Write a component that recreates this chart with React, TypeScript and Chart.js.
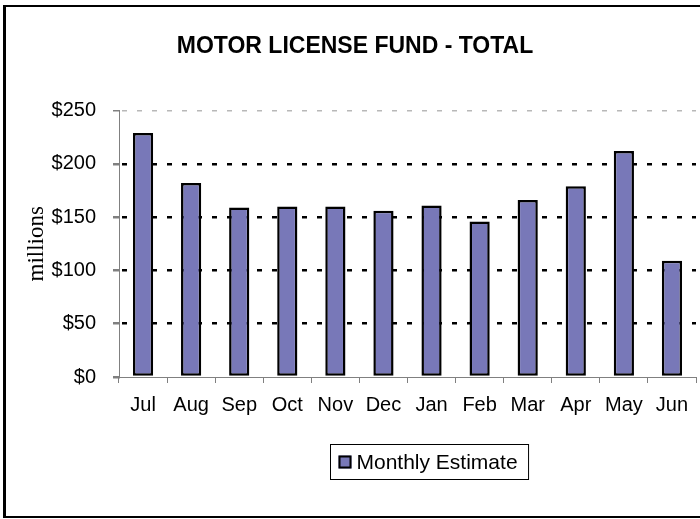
import React, { useEffect, useRef } from "react";
import { Chart, registerables } from "chart.js";

Chart.register(...registerables);

const months = ["Jul", "Aug", "Sep", "Oct", "Nov", "Dec", "Jan", "Feb", "Mar", "Apr", "May", "Jun"];
const monthlyEstimate = [229, 182, 159, 160, 160, 156, 161, 146, 166, 179, 212, 109];
const seriesLabel = "Monthly Estimate";
const chartTitle = "MOTOR LICENSE FUND - TOTAL";
const yAxisTitle = "millions";
const yMin = 0;
const yMax = 250;
const yStep = 50;

const SANS = '"Liberation Sans", Arial, sans-serif';
const SERIF = '"Liberation Serif", "Times New Roman", serif';
const BAR_FILL = "#7878b8";

const framePlugin = {
  id: "frame",
  beforeDraw(chart: any) {
    const ctx = chart.ctx;
    ctx.save();
    ctx.fillStyle = "#ffffff";
    ctx.fillRect(0, 0, chart.width, chart.height);
    ctx.fillStyle = "#000000";
    ctx.fillRect(3, 5, chart.width - 3, 2);
    ctx.fillRect(3, 5, 3, chart.height - 7);
    ctx.fillRect(3, 516, chart.width - 3, 2);
    ctx.restore();
  },
};

const boxedLegendPlugin = {
  id: "boxedLegend",
  afterDraw(chart: any) {
    const ctx = chart.ctx;
    const ds = chart.data.datasets[0];
    ctx.save();
    ctx.font = `21px ${SANS}`;
    const tw = ctx.measureText(ds.label).width;
    const sq = 13;
    const padL = 8;
    const gap = 5;
    const padR = 11;
    const w = padL + sq + gap + tw + padR;
    const h = 35;
    const cx = 429;
    const x = Math.round(cx - w / 2) + 0.5;
    const y = 444.5;
    ctx.strokeStyle = "#000000";
    ctx.lineWidth = 1;
    ctx.strokeRect(x, y, w, h);
    const sx = x + padL;
    const sy = y + (h - sq) / 2;
    ctx.fillStyle = ds.backgroundColor;
    ctx.fillRect(sx, sy, sq, sq);
    ctx.lineWidth = 2;
    ctx.strokeRect(sx + 1, sy + 1, sq - 2, sq - 2);
    ctx.fillStyle = "#000000";
    ctx.textBaseline = "middle";
    ctx.textAlign = "left";
    ctx.fillText(ds.label, sx + sq + gap, y + h / 2 + 1);
    ctx.restore();
  },
};

export default function App() {
  const canvasRef = useRef<HTMLCanvasElement | null>(null);

  useEffect(() => {
    const canvas = canvasRef.current;
    if (!canvas) return;
    const chart = new Chart(canvas, {
      type: "bar",
      data: {
        labels: months,
        datasets: [
          {
            label: seriesLabel,
            data: monthlyEstimate,
            backgroundColor: BAR_FILL,
            borderColor: "#000000",
            borderWidth: 2.5,
            borderSkipped: false,
            categoryPercentage: 1,
            barPercentage: 0.42,
          },
        ],
      },
      options: {
        responsive: false,
        animation: false,
        devicePixelRatio: 1,
        layout: { padding: { left: 14, right: 4, top: 0, bottom: 0 } },
        plugins: {
          legend: { display: false },
          tooltip: { enabled: false },
          title: {
            display: true,
            text: chartTitle,
            color: "#000000",
            font: { family: SANS, size: 23, weight: "bold" },
            padding: { top: 33, bottom: 50 },
          },
        },
        scales: {
          x: {
            afterFit(scale: any) {
              scale.height = 142;
            },
            grid: {
              display: true,
              drawOnChartArea: false,
              drawTicks: true,
              tickLength: 6,
              tickColor: "#808080",
              offset: true,
            },
            border: { display: true, color: "#808080", width: 1 },
            ticks: {
              color: "#000000",
              font: { family: SANS, size: 20 },
              padding: 10,
              maxRotation: 0,
              autoSkip: false,
            },
          },
          y: {
            min: yMin,
            max: yMax,
            afterFit(scale: any) {
              scale.width = 105;
            },
            grid: {
              display: true,
              drawOnChartArea: true,
              drawTicks: true,
              tickLength: 6,
              tickColor: "#808080",
              color: (ctx: any) => {
                const v = ctx.tick ? ctx.tick.value : 0;
                if (v === yMin) return "rgba(0,0,0,0)";
                if (v === yMax) return "#b8b8b8";
                return "#000000";
              },
              lineWidth: (ctx: any) => {
                const v = ctx.tick ? ctx.tick.value : 0;
                return v === yMax ? 1.5 : 2.5;
              },
            },
            border: { display: true, color: "#808080", width: 1, dash: [5, 10], dashOffset: -2 },
            ticks: {
              stepSize: yStep,
              color: "#000000",
              font: { family: SANS, size: 20 },
              padding: 17,
              callback: (v: any) => "$" + v,
            },
            title: {
              display: true,
              text: yAxisTitle,
              color: "#000000",
              font: { family: SERIF, size: 23 },
              padding: { top: 9, bottom: 0 },
            },
          },
        },
      },
      plugins: [framePlugin, boxedLegendPlugin],
    });
    return () => chart.destroy();
  }, []);

  return (
    <div style={{ position: "absolute", left: 0, top: 0, width: 700, height: 519 }}>
      <canvas ref={canvasRef} width={700} height={519} style={{ display: "block" }} />
    </div>
  );
}
